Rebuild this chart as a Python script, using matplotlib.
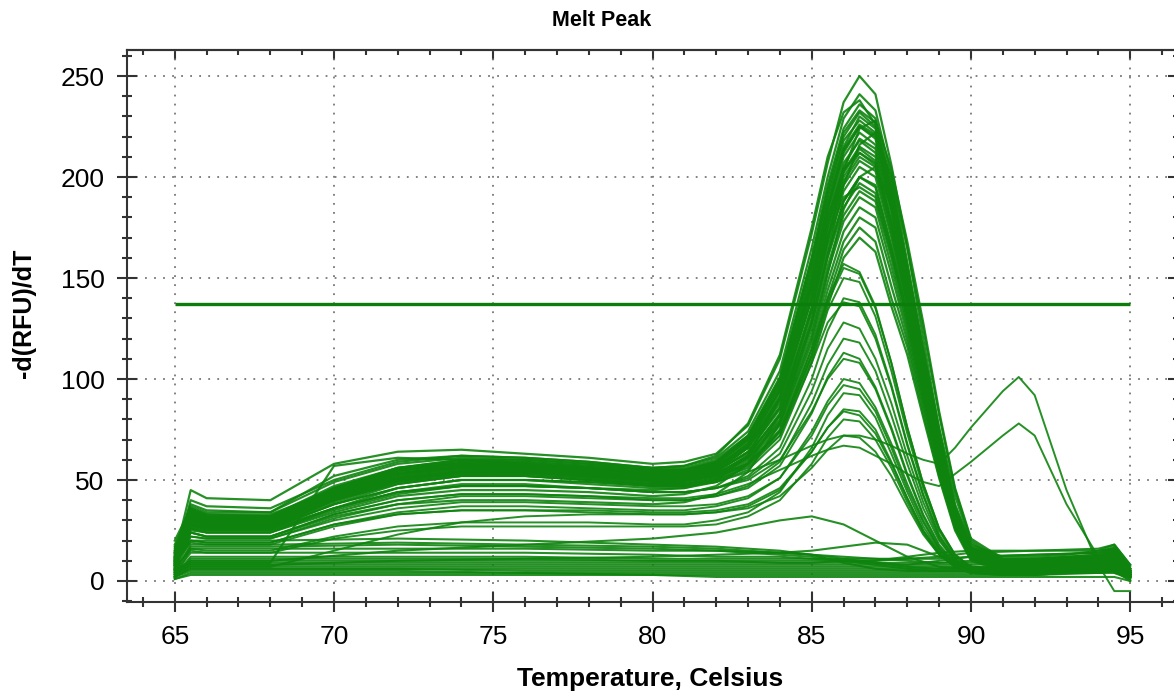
import numpy as np
import matplotlib
matplotlib.use("Agg")
import matplotlib.pyplot as plt
from matplotlib.ticker import MultipleLocator

plt.rcParams['font.family'] = ['Liberation Sans', 'DejaVu Sans']

# temperature grid of the peak curves (deg C)
temps = [65, 65.5, 66, 68, 70, 72, 74, 76, 78, 80, 81, 82, 83, 84, 85, 85.5,
         86, 86.5, 87, 87.5, 88, 88.5, 89, 89.5, 90, 91, 91.5, 92, 93, 94, 94.5, 95]

# wells with the big product peak near 86.5
high_peaks = [
    [12, 45, 41, 40, 58, 64, 65, 63, 61, 58, 59, 63, 77, 110, 172, 207, 237, 250, 241, 206, 165, 120, 75, 38, 18, 12, 12, 12, 13, 15, 18, 8],
    [10, 40, 37, 36, 50, 59, 62, 61, 59, 56, 57, 61, 74, 104, 165, 200, 229, 241, 233, 201, 158, 115, 72, 36, 17, 11, 11, 11, 12, 13, 16, 6],
    [15, 38, 35, 34, 52, 60, 62, 61, 59, 56, 56, 60, 72, 100, 160, 196, 224, 236, 229, 197, 155, 113, 70, 35, 16, 10, 10, 10, 11, 12, 15, 5],
    [8, 36, 33, 33, 45, 55, 58, 58, 56, 54, 55, 59, 71, 98, 156, 192, 220, 232, 225, 192, 152, 110, 69, 34, 16, 10, 10, 10, 11, 12, 14, 4],
    [18, 35, 32, 32, 47, 56, 60, 59, 57, 55, 55, 59, 71, 99, 158, 190, 218, 228, 222, 190, 150, 108, 68, 34, 15, 9, 9, 9, 10, 11, 14, 3],
    [6, 34, 31, 31, 44, 54, 57, 57, 55, 53, 54, 58, 70, 96, 150, 185, 213, 225, 220, 188, 148, 107, 67, 33, 15, 9, 9, 9, 10, 11, 13, 5],
    [14, 33, 30, 30, 46, 56, 59, 58, 56, 54, 54, 57, 68, 94, 148, 183, 210, 222, 216, 185, 146, 106, 66, 33, 15, 8, 8, 8, 9, 10, 13, 2],
    [9, 32, 30, 30, 43, 53, 57, 56, 54, 52, 53, 56, 67, 92, 145, 180, 207, 218, 212, 182, 143, 104, 65, 32, 14, 8, 8, 8, 9, 10, 12, 4],
    [20, 36, 33, 32, 45, 55, 58, 57, 55, 53, 53, 56, 66, 90, 142, 176, 203, 215, 210, 178, 141, 102, 64, 32, 14, 8, 8, 8, 9, 10, 12, 6],
    [7, 31, 29, 29, 42, 52, 56, 56, 54, 52, 52, 55, 66, 88, 140, 173, 200, 212, 206, 176, 139, 101, 63, 31, 14, 7, 7, 7, 8, 9, 11, 3],
    [11, 30, 28, 28, 44, 54, 57, 56, 54, 51, 51, 54, 64, 86, 136, 170, 196, 208, 203, 172, 137, 99, 62, 31, 13, 7, 7, 7, 8, 9, 11, 5],
    [16, 34, 31, 31, 41, 51, 55, 55, 53, 51, 51, 54, 64, 85, 133, 166, 193, 205, 200, 170, 135, 98, 61, 30, 13, 7, 7, 7, 8, 9, 10, 2],
    [5, 29, 27, 27, 40, 50, 54, 54, 52, 50, 50, 53, 62, 83, 130, 162, 188, 200, 196, 166, 132, 95, 60, 30, 13, 6, 6, 6, 7, 8, 10, 4],
    [13, 31, 29, 29, 43, 52, 55, 55, 53, 50, 50, 53, 62, 82, 128, 160, 185, 197, 192, 163, 130, 94, 59, 29, 12, 6, 6, 6, 7, 8, 10, 3],
    [9, 28, 27, 27, 39, 49, 53, 53, 51, 49, 49, 52, 61, 80, 125, 156, 181, 193, 188, 160, 127, 92, 58, 29, 12, 6, 6, 6, 7, 8, 9, 5],
    [17, 32, 30, 30, 42, 51, 54, 54, 52, 49, 49, 52, 60, 79, 122, 153, 178, 190, 185, 156, 125, 90, 57, 28, 12, 6, 6, 6, 7, 7, 9, 2],
    [6, 27, 26, 26, 38, 48, 52, 52, 50, 48, 48, 51, 59, 77, 118, 148, 173, 185, 180, 152, 122, 88, 55, 27, 11, 5, 5, 5, 6, 7, 9, 4],
    [12, 30, 28, 28, 40, 49, 52, 52, 50, 47, 47, 50, 58, 75, 115, 144, 168, 180, 175, 146, 119, 86, 54, 27, 11, 5, 5, 5, 6, 7, 8, 3],
    [8, 26, 25, 25, 36, 46, 50, 50, 48, 46, 46, 49, 57, 74, 112, 140, 164, 175, 168, 140, 116, 83, 52, 26, 11, 5, 5, 5, 6, 6, 8, 2],
    [10, 26, 24, 24, 34, 42, 45, 45, 44, 42, 43, 47, 58, 82, 135, 170, 198, 210, 205, 174, 138, 100, 63, 31, 14, 7, 7, 7, 8, 9, 11, 4],
    [14, 28, 26, 26, 36, 44, 47, 47, 46, 45, 46, 50, 62, 90, 148, 184, 212, 225, 219, 186, 148, 107, 67, 33, 15, 9, 9, 9, 10, 11, 13, 6],
    [7, 24, 22, 22, 32, 38, 40, 40, 39, 38, 39, 43, 54, 78, 128, 161, 188, 200, 195, 165, 132, 95, 60, 30, 13, 6, 6, 6, 7, 8, 10, 3],
    [10, 29, 27, 27, 41, 50, 53, 53, 51, 48, 48, 51, 58, 74, 110, 136, 160, 170, 163, 136, 112, 81, 51, 25, 10, 5, 5, 5, 6, 6, 8, 3],
    [11, 37, 34, 34, 49, 58, 61, 60, 58, 56, 57, 62, 78, 112, 175, 210, 232, 238, 226, 190, 150, 108, 66, 32, 15, 9, 9, 9, 10, 11, 14, 5],
    [5, 9, 9, 9, 57, 61, 60, 58, 56, 54, 54, 57, 67, 90, 140, 175, 202, 214, 208, 177, 141, 102, 64, 32, 14, 7, 7, 7, 8, 9, 11, 4],
    [13, 33, 31, 31, 45, 55, 59, 59, 57, 55, 55, 58, 69, 95, 152, 186, 214, 226, 221, 189, 149, 108, 67, 34, 15, 9, 9, 9, 10, 11, 13, 4],
    [9, 35, 32, 32, 46, 55, 58, 57, 55, 53, 54, 58, 70, 97, 154, 188, 215, 230, 224, 194, 153, 111, 70, 35, 16, 9, 9, 9, 10, 11, 13, 3],
    [15, 30, 28, 28, 41, 50, 54, 54, 52, 50, 51, 55, 66, 91, 145, 178, 205, 219, 214, 184, 144, 104, 65, 32, 14, 8, 8, 8, 9, 10, 12, 5],
    [10, 33, 30, 30, 44, 53, 56, 56, 54, 52, 52, 55, 63, 82, 128, 162, 196, 216, 222, 200, 165, 125, 82, 45, 20, 10, 10, 10, 11, 12, 15, 4],
    [12, 31, 29, 29, 42, 51, 54, 54, 52, 50, 50, 53, 61, 78, 120, 152, 184, 200, 205, 186, 152, 114, 76, 42, 19, 9, 9, 9, 10, 11, 13, 3],
    [8, 34, 31, 31, 46, 56, 60, 60, 58, 55, 55, 59, 72, 101, 160, 194, 222, 233, 227, 195, 156, 114, 72, 37, 17, 10, 10, 10, 11, 12, 15, 6],
    [14, 30, 28, 28, 43, 53, 56, 55, 53, 51, 52, 56, 68, 94, 147, 180, 204, 212, 207, 178, 142, 104, 66, 34, 15, 8, 8, 8, 9, 10, 12, 3],
    [6, 28, 26, 26, 40, 50, 54, 54, 52, 50, 50, 54, 66, 90, 140, 170, 190, 195, 190, 162, 130, 94, 60, 31, 14, 7, 7, 7, 8, 9, 11, 2],
    [11, 35, 32, 32, 45, 55, 58, 58, 56, 53, 53, 57, 66, 86, 134, 168, 203, 224, 228, 204, 168, 128, 84, 46, 21, 11, 11, 11, 12, 13, 16, 5],
]

# wells with a smaller peak near 86
mid_peaks = [
    [8, 30, 28, 28, 40, 48, 52, 52, 50, 48, 48, 50, 56, 72, 112, 138, 155, 152, 135, 108, 76, 48, 26, 13, 7, 5, 5, 5, 6, 6, 8, 3],
    [12, 28, 26, 26, 38, 46, 50, 50, 49, 47, 47, 49, 55, 70, 108, 134, 150, 148, 131, 104, 73, 46, 25, 12, 7, 5, 5, 5, 6, 6, 8, 2],
    [6, 25, 24, 24, 35, 43, 47, 47, 46, 44, 44, 46, 52, 66, 100, 124, 140, 138, 122, 97, 68, 43, 23, 11, 6, 5, 5, 5, 5, 6, 7, 3],
    [10, 27, 25, 25, 36, 44, 48, 48, 46, 44, 44, 46, 51, 63, 94, 115, 128, 125, 110, 88, 62, 39, 21, 10, 6, 4, 4, 4, 5, 5, 7, 2],
    [9, 22, 21, 21, 31, 38, 42, 42, 41, 40, 40, 42, 47, 59, 88, 107, 120, 118, 104, 82, 58, 36, 20, 10, 5, 4, 4, 4, 5, 5, 7, 3],
    [7, 24, 22, 22, 33, 40, 43, 43, 42, 40, 40, 42, 46, 57, 83, 101, 113, 110, 96, 76, 53, 33, 18, 9, 5, 4, 4, 4, 5, 5, 6, 2],
    [11, 20, 19, 19, 28, 34, 37, 37, 36, 35, 35, 37, 41, 51, 74, 89, 100, 98, 86, 68, 48, 30, 16, 8, 5, 4, 4, 4, 5, 5, 6, 3],
    [8, 22, 21, 21, 30, 36, 39, 39, 38, 37, 37, 38, 42, 51, 72, 87, 97, 95, 84, 66, 46, 29, 16, 8, 5, 4, 4, 4, 5, 5, 6, 2],
    [6, 16, 15, 15, 22, 27, 29, 29, 29, 28, 28, 30, 34, 44, 66, 82, 93, 92, 81, 63, 44, 27, 15, 8, 5, 4, 4, 4, 4, 5, 6, 3],
    [9, 19, 18, 18, 27, 33, 35, 35, 35, 34, 34, 35, 38, 46, 64, 76, 85, 84, 75, 59, 41, 25, 14, 7, 4, 4, 4, 4, 4, 5, 6, 2],
    [7, 15, 14, 14, 21, 25, 27, 27, 27, 27, 27, 28, 32, 40, 58, 71, 80, 79, 70, 56, 39, 24, 13, 7, 4, 3, 3, 3, 4, 4, 5, 2],
    [10, 20, 19, 19, 28, 33, 35, 35, 34, 33, 33, 34, 36, 42, 56, 65, 72, 71, 64, 52, 37, 23, 13, 7, 4, 3, 3, 3, 4, 4, 5, 3],
    [8, 26, 24, 24, 36, 44, 47, 47, 46, 44, 44, 46, 50, 60, 84, 100, 110, 108, 95, 75, 52, 32, 17, 9, 5, 4, 4, 4, 5, 5, 6, 2],
    [9, 30, 28, 28, 42, 50, 54, 54, 52, 50, 50, 52, 58, 72, 108, 128, 138, 136, 120, 96, 67, 42, 22, 11, 6, 5, 5, 5, 5, 6, 7, 3],
    [4, 7, 7, 7, 15, 23, 29, 32, 33, 33, 33, 34, 37, 45, 64, 76, 84, 82, 73, 58, 41, 25, 14, 7, 4, 3, 3, 3, 4, 4, 5, 2],
    [11, 31, 29, 29, 43, 51, 54, 54, 52, 50, 50, 52, 58, 74, 115, 140, 157, 153, 136, 108, 76, 48, 26, 13, 7, 5, 5, 5, 6, 6, 8, 4],
]

# two wells with a second product near 91.5
late_peaks = [
    [12, 28, 26, 26, 38, 46, 50, 50, 49, 47, 47, 49, 54, 60, 67, 70, 72, 72, 70, 67, 63, 60, 58, 66, 76, 94, 101, 92, 45, 8, -5, -5],
    [8, 24, 22, 22, 33, 40, 43, 43, 42, 41, 41, 43, 48, 55, 62, 65, 67, 66, 62, 58, 53, 49, 47, 53, 59, 72, 78, 72, 38, 12, 4, 2],
]

# flat, low wells (coarser temperature grid)
low_temps = [65, 65.5, 68, 72, 76, 80, 82, 84, 85, 86, 87, 88, 89, 90, 92, 94, 94.5, 95]
low_curves = [
    [5, 10, 10, 15, 18, 21, 24, 30, 32, 28, 20, 12, 7, 6, 6, 7, 8, 4],
    [4, 8, 8, 10, 11, 12, 13, 14, 15, 17, 19, 18, 12, 7, 6, 7, 8, 3],
    [6, 20, 20, 21, 20, 18, 17, 15, 13, 9, 6, 5, 5, 5, 5, 6, 7, 2],
    [5, 17, 17, 18, 17, 16, 15, 13, 12, 10, 8, 6, 5, 5, 5, 6, 7, 3],
    [4, 14, 14, 14, 14, 13, 12, 12, 11, 10, 9, 8, 8, 8, 9, 11, 13, 5],
    [3, 12, 12, 12, 12, 11, 11, 11, 11, 11, 11, 11, 11, 12, 13, 14, 17, 6],
    [3, 9, 9, 9, 9, 9, 9, 9, 9, 10, 10, 11, 12, 14, 15, 16, 18, 8],
    [2, 7, 7, 7, 7, 7, 7, 7, 7, 7, 7, 7, 7, 7, 7, 9, 11, 4],
    [2, 6, 6, 6, 5, 5, 5, 5, 5, 5, 5, 5, 5, 5, 5, 6, 7, 1],
    [1, 4, 4, 4, 4, 4, 4, 4, 4, 4, 4, 4, 4, 4, 4, 4, 5, 0],
    [2, 5, 5, 5, 4, 3, 3, 3, 3, 3, 3, 3, 3, 3, 3, 4, 4, 1],
    [4, 10, 10, 10, 10, 10, 10, 10, 10, 10, 10, 12, 14, 15, 15, 15, 16, 7],
    [3, 8, 8, 8, 8, 8, 8, 8, 8, 8, 8, 8, 10, 12, 13, 14, 16, 5],
    [2, 16, 16, 16, 16, 15, 15, 14, 13, 12, 11, 10, 9, 9, 9, 10, 11, 3],
    [1, 3, 3, 3, 3, 3, 2, 2, 2, 2, 2, 2, 2, 2, 2, 2, 2, 0],
    [3, 6, 6, 6, 6, 6, 6, 6, 6, 6, 6, 6, 6, 6, 6, 7, 9, 2],
    [2, 11, 11, 11, 11, 10, 10, 9, 9, 9, 9, 9, 9, 10, 11, 12, 14, 5],
    [4, 18, 18, 19, 18, 17, 16, 14, 13, 11, 9, 7, 6, 6, 6, 7, 9, 3],
]

threshold = 137

line_col = '#0e840e'

fig = plt.figure(figsize=(11.74, 6.97), dpi=100)
ax = fig.add_axes([127/1174, 95/697, 1051/1174, 552/697])

for c in low_curves:
    ax.plot(low_temps, c, color=line_col, lw=1.5, alpha=0.9)
for c in mid_peaks + late_peaks:
    ax.plot(temps, c, color=line_col, lw=1.4, alpha=0.9)
for c in high_peaks:
    ax.plot(temps, c, color=line_col, lw=1.6, alpha=0.9)

ax.hlines(threshold, 65, 95, color='#0a7d0a', lw=2.4, zorder=5)

ax.set_xlim(63.5, 96.5)
ax.set_ylim(-10.4, 262.9)
ax.xaxis.set_major_locator(MultipleLocator(5))
ax.xaxis.set_minor_locator(MultipleLocator(1))
ax.yaxis.set_major_locator(MultipleLocator(50))
ax.yaxis.set_minor_locator(MultipleLocator(10))
ax.tick_params(which='both', direction='inout', width=1.5, color='#333333',
               labelsize=19, pad=9)
ax.tick_params(which='major', length=14.5)
ax.tick_params(which='minor', length=7)
ax.grid(which='major', linestyle=(0, (1, 4)), color='#777777', lw=1.3)
ax.set_axisbelow(True)
for s in ax.spines.values():
    s.set_linewidth(1.5)
    s.set_color('#333333')

top = ax.secondary_xaxis('top')
top.xaxis.set_major_locator(MultipleLocator(5))
top.xaxis.set_minor_locator(MultipleLocator(1))
top.tick_params(which='both', direction='in', width=1.5, color='#333333', labeltop=False)
top.tick_params(which='major', length=7)
top.tick_params(which='minor', length=3.6)
top.spines['top'].set_linewidth(1.5)
top.spines['top'].set_color('#333333')

right = ax.secondary_yaxis('right')
right.yaxis.set_major_locator(MultipleLocator(50))
right.yaxis.set_minor_locator(MultipleLocator(10))
right.tick_params(which='both', direction='in', width=1.5, color='#333333', labelright=False)
right.tick_params(which='major', length=7)
right.tick_params(which='minor', length=3.6)

fig.text(602/1174, 1 - 21/697, 'Melt Peak', ha='center', va='center',
         fontsize=15.5, fontweight='bold')
fig.text(24/1174, 1 - 313/697, '-d(RFU)/dT', ha='center', va='center',
         rotation=90, fontsize=18, fontweight='bold')
fig.text(650/1174, 1 - 679/697, 'Temperature, Celsius', ha='center', va='center',
         fontsize=19, fontweight='bold')

fig.savefig('out.png', dpi=100)
